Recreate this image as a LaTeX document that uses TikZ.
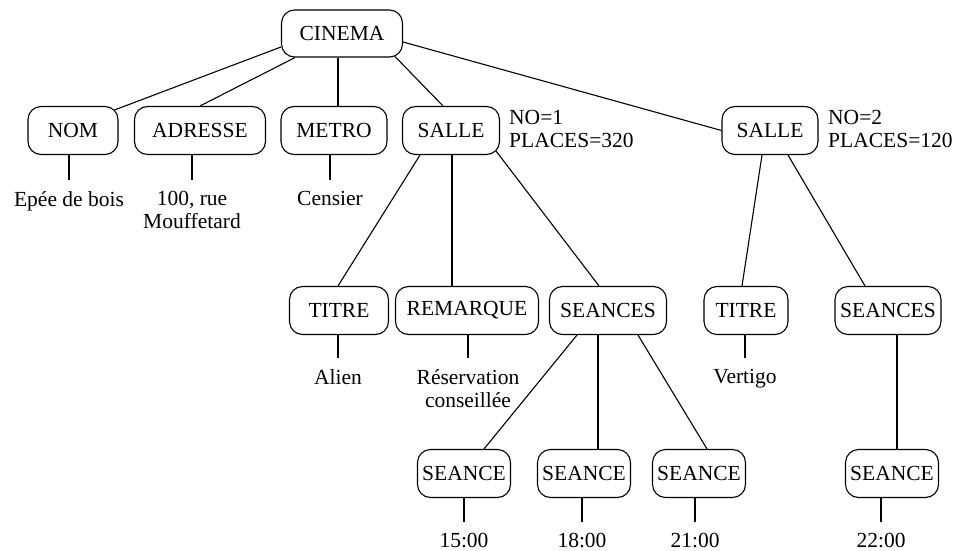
\documentclass[tikz,border=0pt]{standalone}
\usepackage{fontspec}
\setmainfont{Liberation Serif}
\begin{document}
\begin{tikzpicture}[x=1pt,y=-1pt,
  font=\fontsize{21.5pt}{23pt}\selectfont,
  box/.style={draw, rounded corners=13pt, line width=1.1pt, minimum height=48pt, inner sep=0pt, fill=white},
  lbl/.style={inner xsep=0pt, inner ysep=11pt, anchor=north, align=center},
  attr/.style={inner sep=0pt, anchor=north west, align=left},
  edge/.style={line width=1.1pt}]
\useasboundingbox (0,0) rectangle (955,551);

% boxes
\node[box, minimum width=121pt, minimum height=47pt] (cinema) at (342,33.5) {CINEMA};
\node[box, minimum width=90pt]  (nom)      at (73,130.5)  {NOM};
\node[box, minimum width=131pt] (adresse)  at (200,130.5) {ADRESSE};
\node[box, minimum width=106pt] (metro)    at (334,130.5) {METRO};
\node[box, minimum width=97pt]  (salle1)   at (451,130.5) {SALLE};
\node[box, minimum width=96pt]  (salle2)   at (770,130.5) {SALLE};
\node[box, minimum width=99pt]  (titre1)   at (339,310.5) {TITRE};
\node[box, minimum width=143pt] (remarque) at (467,310.5) {REMARQUE};
\node[box, minimum width=117pt] (seances1) at (608,310.5) {SEANCES};
\node[box, minimum width=84pt]  (titre2)   at (746,310.5) {TITRE};
\node[box, minimum width=106pt] (seances2) at (888,310.5) {SEANCES};
\node[box, minimum width=93pt]  (seance1)  at (464,473.5) {SEANCE};
\node[box, minimum width=93pt]  (seance2)  at (584,473.5) {SEANCE};
\node[box, minimum width=93pt]  (seance3)  at (699,473.5) {SEANCE};
\node[box, minimum width=93pt]  (seance4)  at (892,473.5) {SEANCE};

% attributes
\node[attr] (att1) at (509,110) {NO=1\\PLACES=320};
\node[attr] (att2) at (828,110) {NO=2\\PLACES=120};

% leaf values
\node[lbl] (nomv)  at (69,180)  {Epée de bois};
\node[lbl] (adrv)  at (192,180) {100, rue\\Mouffetard};
\node[lbl] (metv)  at (330,180) {Censier};
\node[lbl] (tit1v) at (338,358) {Alien};
\node[lbl] (remv)  at (468,358) {Réservation\\conseillée};
\node[lbl] (tit2v) at (745,358) {Vertigo};
\node[lbl] (s1v)   at (464,522) {15:00};
\node[lbl] (s2v)   at (582,522) {18:00};
\node[lbl] (s3v)   at (695,522) {21:00};
\node[lbl] (s4v)   at (881,522) {22:00};

% tree edges
\draw[edge] ([yshift=-13.5pt]cinema.west) -- ([xshift=-4pt,yshift=-4pt]nom.north east);
\draw[edge] ([xshift=-47pt]cinema.south) -- (adresse.north);
\draw[edge] ([xshift=-4pt]cinema.south) -- ([xshift=4pt]metro.north);
\draw[edge] ([xshift=53pt,yshift=1pt]cinema.south) -- ([xshift=-8pt]salle1.north);
\draw[edge] ([yshift=-8.5pt]cinema.east) -- (salle2.west);

\draw[edge] ([xshift=-31pt]salle1.south) -- ([xshift=-1pt]titre1.north);
\draw[edge] ([xshift=1pt]salle1.south) -- ([xshift=-15pt]remarque.north);
\draw[edge] ([xshift=-4pt,yshift=4pt]salle1.south east) -- ([xshift=-9pt]seances1.north);

\draw[edge] ([xshift=-8pt]salle2.south) -- ([xshift=-4pt]titre2.north);
\draw[edge] ([xshift=18pt]salle2.south) -- ([xshift=-23pt]seances2.north);

\draw[edge] ([xshift=-31pt]seances1.south) -- ([xshift=20pt]seance1.north);
\draw[edge] ([xshift=-10pt]seances1.south) -- ([xshift=14pt]seance2.north);
\draw[edge] ([xshift=30pt]seances1.south) -- ([xshift=8pt]seance3.north);
\draw[edge] ([xshift=9pt]seances2.south) -- ([xshift=5pt]seance4.north);

% value edges
\draw[edge] ([xshift=-4pt]nom.south) -- (nomv.north);
\draw[edge] ([xshift=-8pt]adresse.south) -- (adrv.north);
\draw[edge] ([xshift=-4pt]metro.south) -- (metv.north);
\draw[edge] ([xshift=-1pt]titre1.south) -- (tit1v.north);
\draw[edge] ([xshift=1pt]remarque.south) -- (remv.north);
\draw[edge] ([xshift=-1pt]titre2.south) -- (tit2v.north);
\draw[edge] (seance1.south) -- (s1v.north);
\draw[edge] ([xshift=-2pt]seance2.south) -- (s2v.north);
\draw[edge] ([xshift=-4pt]seance3.south) -- (s3v.north);
\draw[edge] ([xshift=-11pt]seance4.south) -- (s4v.north);
\end{tikzpicture}
\end{document}
